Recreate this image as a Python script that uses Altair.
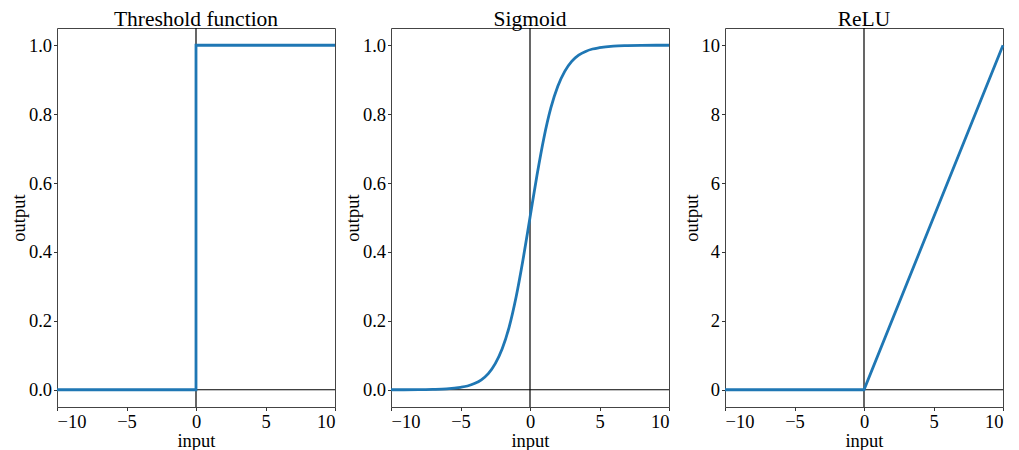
import altair as alt
import pandas as pd

# Threshold function
thr_x = [-10, 0, 0, 10]
thr_y = [0, 0, 1, 1]

# Sigmoid
sig_x = [-10, -8, -7, -6, -5, -4.5, -4, -3.5, -3, -2.5, -2, -1.5, -1, -0.5, 0,
         0.5, 1, 1.5, 2, 2.5, 3, 3.5, 4, 4.5, 5, 6, 7, 8, 10]
sig_y = [0.0, 0.0003, 0.001, 0.0025, 0.007, 0.011, 0.018, 0.029, 0.047, 0.076,
         0.119, 0.182, 0.269, 0.378, 0.5, 0.622, 0.731, 0.818, 0.881, 0.924,
         0.953, 0.971, 0.982, 0.989, 0.993, 0.9975, 0.999, 0.9997, 1.0]

# ReLU
relu_x = [-10, 0, 10]
relu_y = [0, 0, 10]

titles = ["Threshold function", "Sigmoid", "ReLU"]
x_ticks = [-10, -5, 0, 5, 10]
y_ticks_unit = [0, 0.2, 0.4, 0.6, 0.8, 1.0]
y_ticks_relu = [0, 2, 4, 6, 8, 10]

FONT = "Liberation Serif"
BLUE = "#1f77b4"
W, H = 278, 379


def panel(xs, ys, title, ydomain, yticks, yfmt, interp="linear"):
    df = pd.DataFrame({"x": xs, "y": ys, "o": list(range(len(xs)))})
    xenc = alt.X("x:Q", scale=alt.Scale(domain=[-10, 10], nice=False, zero=False),
                 axis=alt.Axis(values=x_ticks, format="d", title="input",
                               labelPadding=2, titlePadding=0))
    yenc = alt.Y("y:Q", scale=alt.Scale(domain=ydomain, nice=False, zero=False),
                 axis=alt.Axis(values=yticks, format=yfmt, title="output",
                               labelPadding=2, titlePadding=0))
    base = alt.Chart(df)
    hline = alt.Chart(pd.DataFrame({"y": [0]})).mark_rule(color="black", strokeWidth=1.2).encode(
        y=alt.Y("y:Q", scale=alt.Scale(domain=ydomain, nice=False, zero=False)))
    vline = alt.Chart(pd.DataFrame({"x": [0]})).mark_rule(color="black", strokeWidth=1.2).encode(
        x=alt.X("x:Q", scale=alt.Scale(domain=[-10, 10], nice=False, zero=False)))
    line = base.mark_line(color=BLUE, strokeWidth=2.8, interpolate=interp).encode(
        x=xenc, y=yenc, order="o:Q")
    return alt.layer(hline, vline, line).properties(
        width=W, height=H,
        title=alt.TitleParams(title, font=FONT, fontSize=21.5, fontWeight="normal",
                              color="black", offset=-3))


p1 = panel(thr_x, thr_y, titles[0], [-0.05, 1.05], y_ticks_unit, ".1f")
p2 = panel(sig_x, sig_y, titles[1], [-0.05, 1.05], y_ticks_unit, ".1f", interp="monotone")
p3 = panel(relu_x, relu_y, titles[2], [-0.5, 10.5], y_ticks_relu, "d")

chart = alt.hconcat(p1, p2, p3, spacing=56, bounds="flush").properties(
    padding={"left": 0, "top": 0, "right": 0, "bottom": 0}
).configure_axis(
    grid=False,
    labelFont=FONT, labelFontSize=18.5, labelColor="black",
    titleFont=FONT, titleFontSize=18.5, titleFontWeight="normal", titleColor="black",
    tickColor="#333", tickSize=3.5,
    domain=False,
).configure_view(stroke="#444", strokeWidth=1)

chart.save("out.html", embed_options={"renderer": "svg", "actions": False})
